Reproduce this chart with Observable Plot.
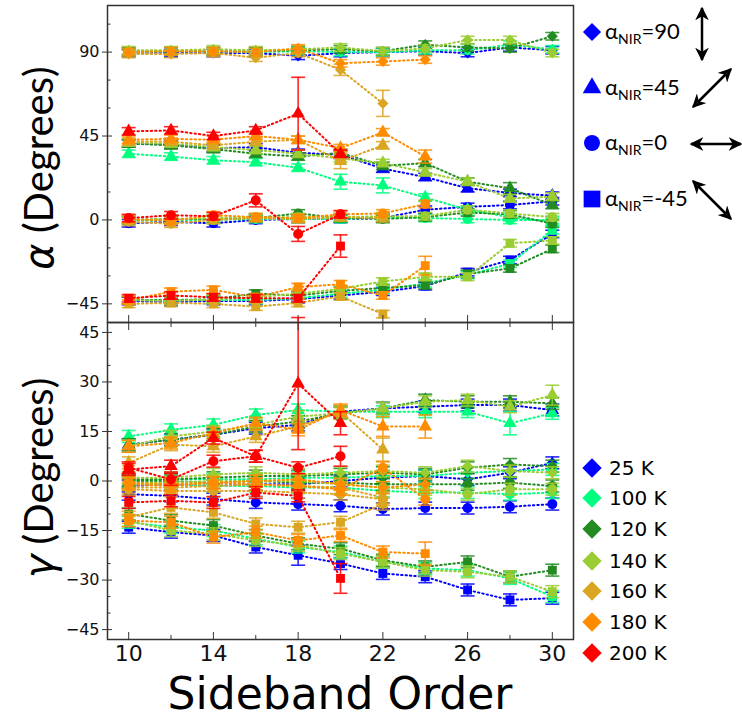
<!DOCTYPE html>
<html>
<head>
<meta charset="utf-8">
<script src="https://cdn.jsdelivr.net/npm/d3@7"></script>
<script src="https://cdn.jsdelivr.net/npm/@observablehq/plot@0.6"></script>
<style>
  body { margin: 0; background: #fff; }
  #wrap { position: relative; width: 742px; height: 719px; overflow: hidden; background: #fff; }
  .pane { position: absolute; left: 0; }
  .ytitle { position: absolute; white-space: nowrap; transform: translate(-50%, -50%) rotate(-90deg);
            font-family: Lato, "Open Sans", sans-serif; font-size: 40px; color: #000; line-height: 1; }
  .ytitle i { font-family: "DejaVu Sans", sans-serif; font-style: oblique; }
  #xtitle { position: absolute; left: 340px; top: 674px; transform: translateX(-50%); white-space: nowrap;
            font-family: "DejaVu Sans", sans-serif; font-size: 44px; line-height: 0.9; color: #000; }
  #legend { position: absolute; left: 574px; top: 0; }
</style>
</head>
<body>
<div id="wrap">
  <div id="top" class="pane" style="top:0"></div>
  <div id="bottom" class="pane" style="top:322px"></div>
  <div class="ytitle" style="left:38px; top:168px"><i>α</i> (Degrees)</div>
  <div class="ytitle" style="left:38px; top:478px"><i>γ</i> (Degrees)</div>
  <div id="xtitle">Sideband Order</div>
  <svg id="legend" width="168" height="719"></svg>
</div>
<script>
// Sideband orders and sample temperatures
const orders = [10, 12, 14, 16, 18, 20, 22, 24, 26, 28, 30];
const temps = ["25 K", "100 K", "120 K", "140 K", "160 K", "180 K", "200 K"];
const tempColors = ["#0000ff", "#00ff7f", "#228b22", "#9acd32", "#daa520", "#ff8c00", "#ff0000"];

// NIR polarization angles and the marker used for each
const nirAngles = [90, 45, 0, -45];
const nirSymbols = ["diamond2", "triangle", "circle", "square"];

// alpha (degrees), one row per temperature, one value per sideband order
const alpha90 = [
  [89.5, 89.5, 89.5, 89.5, 88, 89.5, 90, 90.5, 89.5, 92.5, 91],
  [90, 90.5, 90.5, 90, 90.5, 90, 90, 91, 91, 94, 91.5],
  [90.5, 90.5, 90.5, 90.5, 91, 91.5, 90.5, 94, 92.5, 92, 98.5],
  [91, 91, 91.5, 91, 91.5, 92.5, 90.5, 92, 96.5, 96.5, 89.5],
  [89, 89, 89.5, 87, 89.5, 80.5, 62.5],
  [90, 90.5, 90.5, 90, 92, 84, 85, 86],
  []
];
const alpha45 = [
  [41, 40.5, 38.5, 39, 36, 35, 27.5, 23, 17, 14.5, 13],
  [35.5, 34, 32, 31, 28, 20.5, 18.5, 12, 5.5, 1.5, -1],
  [41, 40, 38, 35.5, 34, 36, 29, 30.5, 20.5, 17, 8],
  [41.5, 41, 39, 37.5, 35.5, 33, 30.5, 25.5, 20.5, 11.5, 12.5],
  [42, 42, 40, 42, 43, 31.5, 40],
  [43, 43.5, 43, 45, 43, 38.5, 47, 34],
  [47.5, 48, 45, 48, 57, 35.5]
];
const alpha0 = [
  [-1.8, -1, -1.8, 0, 0.5, 0.5, 1, 5.5, 7, 8, 10],
  [-0.5, 0, 0, 0.5, 0.5, 0.5, 1.5, 1, 0.5, 0, 0],
  [0, 0.5, 0.5, 1, 3.5, 1, 0.5, 1.5, 4, 3, -2],
  [0, 0.5, 1, 1.5, 1.5, 1.5, 2, 2, 5.5, 3.5, 1.5],
  [-1, -2, 0, 1, 0.5, 1.5, 1],
  [0.5, -0.5, 2.5, 1.5, 1, 3, 3.5, 8.5],
  [1, 2.5, 2, 10.5, -7.5, 3]
];
const alphaM45 = [
  [-43.5, -44, -43.5, -43.5, -42.5, -40.5, -38.5, -35.5, -28, -21.5, -7.5],
  [-43, -43, -43, -43, -42, -39.5, -37.5, -34, -29.5, -23.5, -5.5],
  [-43, -43, -42.5, -39.5, -40.5, -38, -36.5, -35, -29, -26, -15.5],
  [-43, -43.5, -42.5, -41.5, -39.5, -37, -33, -30.5, -30.5, -12.5, -11],
  [-45, -44.5, -45, -46.5, -44.5, -41, -50.5],
  [-43, -38.5, -37.5, -41.5, -36, -34.5, -40.5, -24.5],
  [-42, -40.5, -41.5, -42, -42, -14]
];

// gamma (degrees), same layout
const gamma90 = [
  [-1.5, -1, -1.5, -1, -1, 0, 1, 1.5, 0.5, 2.5, 5.5],
  [0, 0.5, 0.5, 0.5, 1, 1, 1.5, 1.5, 2.5, 3, 3.5],
  [0.5, 0.5, 1, 1.5, 1.5, 2, 2.5, 2, 4, 5, 4.5],
  [1, 1, 2, 2.5, 2, 2.5, 3, 2.5, 4.5, 3, 2.5],
  [-2, -2, -1.5, -1, -1.5, -2, -5],
  [-1, -1.5, -0.5, 0, 0.5, -1, -2, -1],
  []
];
const gamma45 = [
  [11, 12.5, 14, 16, 17, 21, 22, 22.5, 23, 23, 21.5],
  [13.5, 15.5, 17, 20, 21.5, 21, 21, 21, 21, 17.5, 20.5],
  [11, 12.5, 14, 16.5, 18, 20.5, 22, 24.5, 24, 24, 23.5],
  [10.5, 13.5, 15, 17, 19.5, 20.5, 22, 24, 24.5, 22.5, 26],
  [5.5, 11, 10.5, 13.5, 16.5, 21, 9.5],
  [10.5, 11.5, 14.5, 17.5, 15.5, 21.5, 16.5, 16.5],
  [3.5, 4.5, 13, 7.5, 29.5, 17.5]
];
const gamma0 = [
  [-4, -4.5, -5.5, -6.5, -7, -7.5, -8.5, -8.2, -8.2, -7.8, -7],
  [-1, -1, -1.5, -1.5, -2, -2, -3, -3.5, -3.5, -4, -3.5],
  [0, 0, -0.5, 0, -0.5, -0.5, -1, -1, -1, -0.5, -1.5],
  [-0.5, -0.5, 0, 0, 0, -1, -2, -2.5, -4, -2.5, -2.5],
  [-2.5, -3, -3, -3, -3.5, -4, -5.5],
  [-0.5, -1, -0.5, -1, -1.5, -2.5, 4, -5.5],
  [4, 0.5, 6, 7.5, 4, 7.5]
];
const gammaM45 = [
  [-14, -15.5, -16.5, -20, -22.5, -25, -28, -29, -33, -36, -35.5],
  [-12.5, -14, -15, -17.5, -20, -21.5, -24.5, -26.5, -27, -29.5, -35],
  [-10, -12, -13.5, -16.5, -19, -20.5, -24, -26, -24.5, -29, -27],
  [-12, -15, -16, -18, -19.5, -22, -24.5, -27, -27.5, -29, -33.5],
  [-11, -8, -9.5, -13, -14, -12.5, -7],
  [-12, -12.5, -17, -15.5, -18, -16.5, -21.5, -22],
  [-6.5, -6, -6.5, -3.5, -4.5, -29.5]
];

// Uncertainties: a typical half-width per quantity, plus the wider ones
// given as [NIR angle, temperature, order, half-width]
const alphaErr = 2;
const gammaErr = 1.8;
const alphaWideErr = [
  [45, "200 K", 18, 19.5], [90, "160 K", 22, 7], [90, "160 K", 20, 3],
  [0, "200 K", 16, 3.5], [0, "200 K", 18, 4], [-45, "200 K", 20, 6],
  [-45, "180 K", 24, 5], [45, "180 K", 24, 3.5], [45, "100 K", 20, 4],
  [45, "100 K", 22, 4], [45, "160 K", 20, 4], [45, "120 K", 28, 3]
];
const gammaWideErr = [
  [45, "200 K", 18, 20], [45, "200 K", 20, 3.5], [0, "200 K", 20, 3],
  [-45, "200 K", 20, 4.5], [45, "160 K", 22, 3.5], [45, "180 K", 22, 3],
  [45, "180 K", 24, 3.5], [-45, "180 K", 24, 3.5], [45, "100 K", 28, 3.5],
  [-45, "25 K", 18, 3], [45, "140 K", 30, 3]
];

const xMajor = [10, 14, 18, 22, 26, 30];
const xMinor = [12, 16, 20, 24, 28];

function records(sets, defErr, wide) {
  const out = [];
  sets.forEach((byTemp, pi) => {
    byTemp.forEach((row, ti) => {
      row.forEach((v, i) => {
        const o = orders[i];
        const w = wide.find(e => e[0] === nirAngles[pi] && e[1] === temps[ti] && e[2] === o);
        out.push({pol: pi, temp: ti, order: o, value: v, err: w ? w[3] : defErr});
      });
    });
  });
  return out;
}

const fmt = d => (d < 0 ? "\u2212" + (-d) : String(d));

function panel(recs, opts) {
  const marks = [];
  temps.forEach((t, ti) => {
    const c = tempColors[ti];
    nirAngles.forEach((a, pi) => {
      const rows = recs.filter(d => d.temp === ti && d.pol === pi);
      if (!rows.length) return;
      marks.push(
        Plot.line(rows, {x: "order", y: "value", stroke: c, strokeWidth: 2, strokeDasharray: "1.4,3"}),
        Plot.ruleX(rows, {x: "order", y1: d => d.value - d.err, y2: d => d.value + d.err, stroke: c, strokeWidth: 1.6, strokeOpacity: 0.85}),
        Plot.link(rows, {x1: d => d.order - 0.33, x2: d => d.order + 0.33, y1: d => d.value + d.err, y2: d => d.value + d.err, stroke: c, strokeWidth: 1.6, strokeOpacity: 0.85}),
        Plot.link(rows, {x1: d => d.order - 0.33, x2: d => d.order + 0.33, y1: d => d.value - d.err, y2: d => d.value - d.err, stroke: c, strokeWidth: 1.6, strokeOpacity: 0.85}),
        Plot.dot(rows, {x: "order", y: "value", symbol: nirSymbols[pi], fill: c, r: 5})
      );
    });
  });

  const axes = [
    Plot.axisY({ticks: opts.yMajor, tickSize: 5, tickPadding: 3, fontSize: 16, tickFormat: fmt, label: null, stroke: "#333"}),
    Plot.axisY({ticks: opts.yMajor, tickSize: -5, text: null, label: null, stroke: "#333"}),
    Plot.axisY({ticks: opts.yMinor, tickSize: -3.5, text: null, label: null, stroke: "#333"}),
    Plot.axisX({anchor: "bottom", ticks: xMajor, tickSize: -7, text: null, label: null, stroke: "#333"}),
    Plot.axisX({anchor: "bottom", ticks: xMinor, tickSize: -4, text: null, label: null, stroke: "#333"})
  ];
  if (opts.topTicks) {
    axes.push(
      Plot.axisX({anchor: "top", ticks: xMajor, tickSize: -7, text: null, label: null, stroke: "#333"}),
      Plot.axisX({anchor: "top", ticks: xMinor, tickSize: -4, text: null, label: null, stroke: "#333"})
    );
  }
  if (opts.xLabels) {
    axes.push(Plot.axisX({anchor: "bottom", ticks: xMajor, tickSize: 0, tickPadding: 6, fontSize: 22, label: null}));
  }

  return Plot.plot({
    width: 580,
    height: opts.height,
    marginLeft: 107,
    marginRight: 7,
    marginTop: opts.marginTop,
    marginBottom: opts.marginBottom,
    x: {domain: [9, 31]},
    y: {domain: opts.yDomain},
    style: {fontFamily: "DejaVu Sans, sans-serif", color: "#111", background: "transparent", overflow: "visible"},
    marks: [...marks, ...axes, Plot.frame({stroke: "#333", strokeWidth: 1.5})]
  });
}

const alphaRecs = records([alpha90, alpha45, alpha0, alphaM45], alphaErr, alphaWideErr);
const gammaRecs = records([gamma90, gamma45, gamma0, gammaM45], gammaErr, gammaWideErr);

document.getElementById("top").append(panel(alphaRecs, {
  height: 330, marginTop: 5, marginBottom: 8, yDomain: [-55, 115],
  yMajor: [-45, 0, 45, 90], yMinor: [-30, -15, 15, 30, 60, 75, 105],
  topTicks: false, xLabels: false
}));

document.getElementById("bottom").append(panel(gammaRecs, {
  height: 397, marginTop: 0, marginBottom: 80, yDomain: [-48, 48],
  yMajor: [-45, -30, -15, 0, 15, 30, 45],
  yMinor: d3.range(-45, 46, 5).filter(v => v % 15 !== 0),
  topTicks: true, xLabels: true
}));

// Legends: NIR polarization (marker shape with arrow) and temperature (colour)
const legend = d3.select("#legend");
const ox = 574;
const nirRows = [
  {label: "90", sym: d3.symbolDiamond2, size: 210, y: 32},
  {label: "45", sym: d3.symbolTriangle, size: 150, y: 88},
  {label: "0", sym: d3.symbolCircle, size: 200, y: 143},
  {label: "-45", sym: d3.symbolSquare, size: 280, y: 199}
];
nirRows.forEach(r => {
  legend.append("path").attr("d", d3.symbol(r.sym, r.size)())
    .attr("transform", `translate(${592 - ox},${r.y})`).attr("fill", "#0000ff");
  const t = legend.append("text").attr("x", 605 - ox).attr("y", r.y + 7)
    .attr("font-family", "Lato, 'Noto Sans', sans-serif").attr("font-size", 22).attr("fill", "#000");
  t.append("tspan").text("α");
  t.append("tspan").attr("dy", 5).attr("font-size", 14).text("NIR");
  t.append("tspan").attr("dy", -5).text("=" + r.label);
});

const defs = legend.append("defs");
defs.append("marker").attr("id", "ah").attr("viewBox", "0 0 10 10").attr("refX", 9).attr("refY", 5)
  .attr("markerWidth", 5.5).attr("markerHeight", 5.5).attr("orient", "auto-start-reverse")
  .append("path").attr("d", "M0,0L10,5L0,10L3,5Z").attr("fill", "#000");
const arrows = [
  [702, 8, 702, 60],
  [693, 107, 731, 69],
  [691, 144, 741, 144],
  [693, 181, 731, 219]
];
arrows.forEach(([x1, y1, x2, y2]) => {
  legend.append("line").attr("x1", x1 - ox).attr("y1", y1).attr("x2", x2 - ox).attr("y2", y2)
    .attr("stroke", "#000").attr("stroke-width", 2.5)
    .attr("marker-start", "url(#ah)").attr("marker-end", "url(#ah)");
});

const tempRowY = [468, 498, 529, 561, 591, 622, 653];
temps.forEach((t, i) => {
  legend.append("path").attr("d", d3.symbol(d3.symbolDiamond2, 240)())
    .attr("transform", `translate(${592 - ox},${tempRowY[i]})`).attr("fill", tempColors[i]);
  legend.append("text").attr("x", 609 - ox).attr("y", tempRowY[i] + 7)
    .attr("font-family", "DejaVu Sans, sans-serif").attr("font-size", 20).attr("fill", "#000").text(t);
});
</script>
</body>
</html>
